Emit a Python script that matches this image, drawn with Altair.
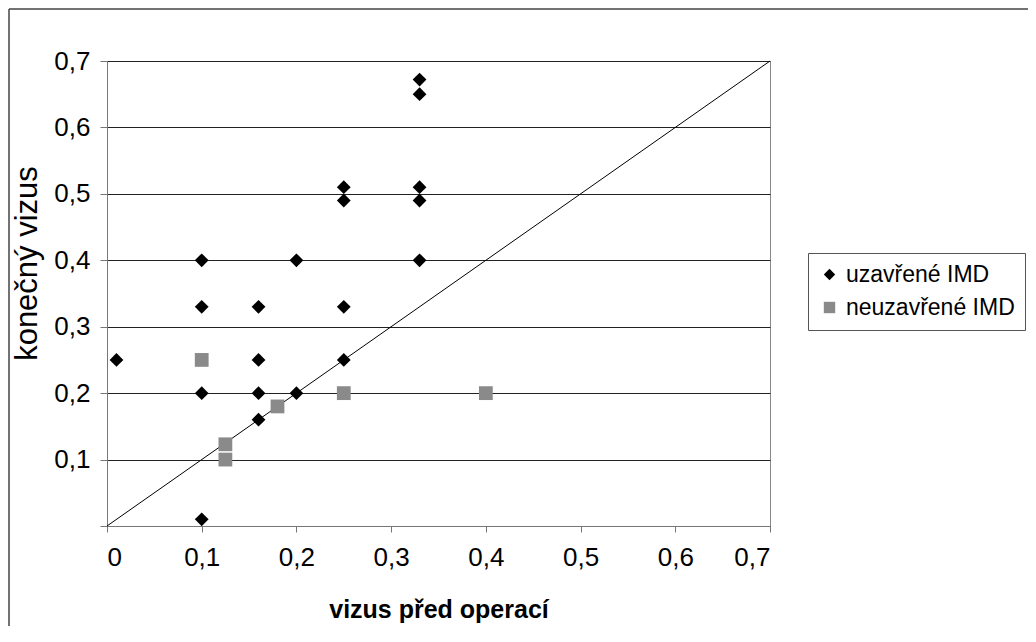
import altair as alt
import pandas as pd

# --- data ---
closed_x = [0.01, 0.1, 0.1, 0.1, 0.1, 0.16, 0.16, 0.16, 0.16, 0.2, 0.2,
            0.25, 0.25, 0.25, 0.25, 0.33, 0.33, 0.33, 0.33, 0.33]
closed_y = [0.25, 0.4, 0.33, 0.2, 0.01, 0.33, 0.25, 0.2, 0.16, 0.4, 0.2,
            0.51, 0.49, 0.33, 0.25, 0.672, 0.65, 0.51, 0.49, 0.4]
open_x = [0.1, 0.125, 0.125, 0.18, 0.25, 0.4]
open_y = [0.25, 0.123, 0.1, 0.18, 0.2, 0.2]
diag_x = [0.0, 0.7]
diag_y = [0.0, 0.7]
series = ["uzavřené IMD", "neuzavřené IMD"]
ticks = [0, 0.1, 0.2, 0.3, 0.4, 0.5, 0.6, 0.7]

FONT = "Liberation Sans"

pts = pd.DataFrame({
    "x": closed_x + open_x,
    "y": closed_y + open_y,
    "g": [series[0]] * len(closed_x) + [series[1]] * len(open_x),
})
diag = pd.DataFrame({"x": diag_x, "y": diag_y})

xscale = alt.Scale(domain=[0, 0.7], nice=False, zero=False)
yscale = alt.Scale(domain=[0, 0.7], nice=False, zero=False)

fmt = "replace(datum.value == 0 ? '0' : format(datum.value, '.1f'), '.', ',')"

xaxis = alt.Axis(values=ticks, grid=False, labelExpr=fmt, labelFontSize=26,
                 labelFont=FONT, labelColor="black", labelPadding=12,
                 tickSize=6, tickColor="#777", domainColor="#777",
                 title="vizus před operací", titleFont=FONT, titleFontSize=25,
                 titleFontWeight="bold", titleColor="black",
                 titleY=91, titleBaseline="alphabetic")
yaxis = alt.Axis(values=ticks, grid=True, gridColor="#222", gridWidth=1,
                 labelExpr="datum.value == 0 ? '' : " + fmt, labelFontSize=26,
                 labelFont=FONT, labelColor="black", labelPadding=10,
                 tickSize=7, tickColor="#777", domainColor="#777",
                 title="konečný vizus", titleFont=FONT, titleFontSize=31,
                 titleFontWeight="normal", titleColor="black",
                 titleX=-80, titleY=202, titleAngle=-90, titleBaseline="middle")

line = alt.Chart(diag).mark_line(color="black", strokeWidth=1).encode(
    x=alt.X("x:Q", scale=xscale, axis=xaxis),
    y=alt.Y("y:Q", scale=yscale, axis=yaxis),
)

leg = alt.Legend(title=None, orient="none", legendX=701, legendY=192,
                 strokeColor="#555", fillColor="white", padding=10,
                 labelFont=FONT, labelFontSize=23, labelColor="black", labelLimit=0,
                 symbolSize=130, rowPadding=9, labelOffset=5)

points = alt.Chart(pts).mark_point(filled=True, opacity=1).encode(
    x=alt.X("x:Q", scale=xscale),
    y=alt.Y("y:Q", scale=yscale),
    color=alt.Color("g:N", scale=alt.Scale(domain=series, range=["black", "#8a8a8a"]), legend=leg),
    shape=alt.Shape("g:N", scale=alt.Scale(domain=series, range=["diamond", "square"]), legend=leg),
    size=alt.value(190),
)

frame_src = pd.DataFrame({"k": [0]})
frame_left = alt.Chart(frame_src).mark_rule(color="#444", strokeWidth=1.5, clip=False).encode(
    x=alt.value(-98), y=alt.value(-52), y2=alt.value(620))
frame_top = alt.Chart(frame_src).mark_rule(color="#444", strokeWidth=1.5, clip=False).encode(
    x=alt.value(-98), x2=alt.value(1000), y=alt.value(-52))

chart = alt.layer(frame_left, frame_top, line, points).properties(
    width=663, height=465,
    autosize=alt.AutoSizeParams(type="none"),
    padding={"left": 99, "top": 53, "right": 258, "bottom": 100},
    background="white",
).configure_view(stroke="#888", strokeWidth=1)

chart.save("out.html", embed_options={"renderer": "svg", "actions": False})
